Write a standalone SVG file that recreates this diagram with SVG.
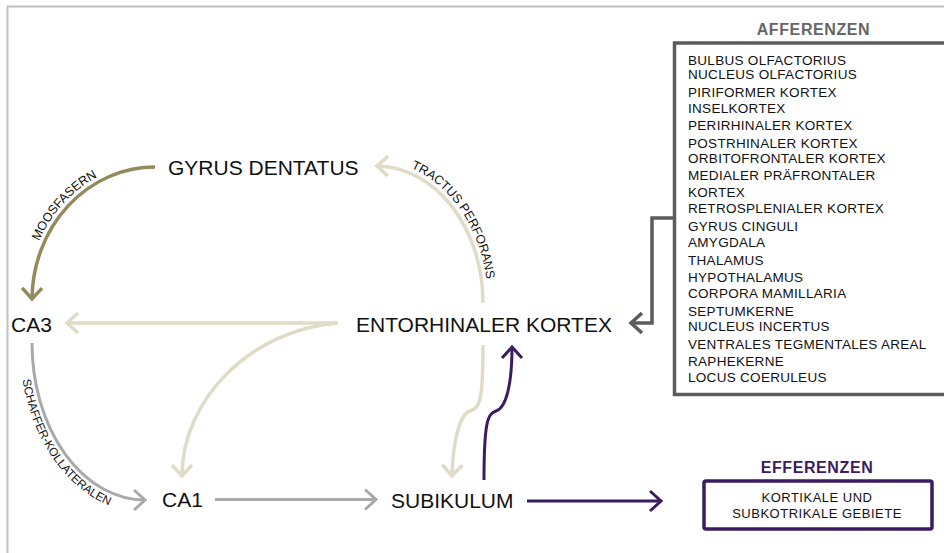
<svg xmlns="http://www.w3.org/2000/svg" width="944" height="553" viewBox="0 0 944 553">
<style>
  .lbl { font-family: "Liberation Sans", Arial, sans-serif; font-size: 21px; fill: #111; }
  .small { font-family: "Liberation Sans", Arial, sans-serif; fill: #111; }
  .list { font-family: "Liberation Sans", Arial, sans-serif; font-size: 13.5px; letter-spacing: 0.3px; fill: #111; }
  .title { font-family: "Liberation Sans", Arial, sans-serif; font-size: 16px; font-weight: bold; letter-spacing: 0.6px; text-anchor: middle; }
  .conn { fill: none; stroke-linecap: butt; }
  .olive { stroke: #938a5d; stroke-width: 3.5; }
  .beige { stroke: #e0dbc6; stroke-width: 3.5; }
  .gray { stroke: #a9a9a9; stroke-width: 3; }
  .purple { stroke: #3b1c5f; stroke-width: 3; }
  .dgray { stroke: #5c5c5c; stroke-width: 3.5; }
</style>
<defs>
  <marker id="mOlive" markerUnits="userSpaceOnUse" markerWidth="30" markerHeight="30" refX="0" refY="0" orient="auto" overflow="visible">
    <path d="M-11,-10 L0,0 L-11,10" fill="none" stroke="#938a5d" stroke-width="3.5"/>
  </marker>
  <marker id="mBeige" markerUnits="userSpaceOnUse" markerWidth="30" markerHeight="30" refX="0" refY="0" orient="auto" overflow="visible">
    <path d="M-11,-10 L0,0 L-11,10" fill="none" stroke="#e0dbc6" stroke-width="3.5"/>
  </marker>
  <marker id="mGray" markerUnits="userSpaceOnUse" markerWidth="30" markerHeight="30" refX="0" refY="0" orient="auto" overflow="visible">
    <path d="M-11,-10 L0,0 L-11,10" fill="none" stroke="#a9a9a9" stroke-width="3"/>
  </marker>
  <marker id="mPurple" markerUnits="userSpaceOnUse" markerWidth="30" markerHeight="30" refX="0" refY="0" orient="auto" overflow="visible">
    <path d="M-11,-10 L0,0 L-11,10" fill="none" stroke="#3b1c5f" stroke-width="3"/>
  </marker>
  <marker id="mDgray" markerUnits="userSpaceOnUse" markerWidth="30" markerHeight="30" refX="0" refY="0" orient="auto" overflow="visible">
    <path d="M-11,-10 L0,0 L-11,10" fill="none" stroke="#5c5c5c" stroke-width="3.5"/>
  </marker>
  <path id="tpMoos" d="M27,300 A128,138 0 0 1 155,162"/>
  <path id="tpTractus" d="M376,161 A112,142 0 0 1 488,303"/>
  <path id="tpSchaffer" d="M19.5,343 A125.5,169.5 0 0 0 145,512.5"/>
</defs>

<!-- frame -->
<path d="M7.5,553 V6.5 H944" fill="none" stroke="#c0c0c0" stroke-width="2"/>

<g id="connectors">
  <path class="conn olive" d="M155,167 A123,133 0 0 0 32,299" marker-end="url(#mOlive)"/>
  <path class="conn beige" d="M483,303 A107,137 0 0 0 377,166" marker-end="url(#mBeige)"/>
  <path class="conn beige" d="M338,323 L67,323" marker-end="url(#mBeige)"/>
  <path class="conn beige" d="M338,323 C250,330 182,400 182,476" marker-end="url(#mBeige)"/>
  <path class="conn gray" d="M32,343 A113,157 0 0 0 145,500" marker-end="url(#mGray)"/>
  <path class="conn gray" d="M215,499.5 L376,499.5" marker-end="url(#mGray)"/>
  <path class="conn purple" d="M527,501 L661,501" marker-end="url(#mPurple)"/>
  <path class="conn purple" d="M484,480 C484,420 488,414 496,411 C506,408 512,385 512,347" marker-end="url(#mPurple)"/>
  <path class="conn beige" d="M483,345 C483,400 480,408 470,411 C460,414 453,440 452,476" marker-end="url(#mBeige)"/>
  <path class="conn dgray" d="M674,218 H652 V323 H631" marker-end="url(#mDgray)"/>
  <text class="small" font-size="12.5"><textPath href="#tpMoos" startOffset="50%" text-anchor="middle">MOOSFASERN</textPath></text>
  <text class="small" font-size="12.5"><textPath href="#tpTractus" startOffset="53%" text-anchor="middle">TRACTUS PERFORANS</textPath></text>
  <text class="small" font-size="11.8"><textPath href="#tpSchaffer" startOffset="50%" text-anchor="middle">SCHAFFER-KOLLATERALEN</textPath></text>
</g>

<g id="gyrus-dentatus"><text class="lbl" x="168" y="175">GYRUS DENTATUS</text></g>
<g id="ca3"><text class="lbl" x="11" y="332">CA3</text></g>
<g id="entorhinaler-kortex"><text class="lbl" x="356" y="332">ENTORHINALER KORTEX</text></g>
<g id="ca1"><text class="lbl" x="162" y="507">CA1</text></g>
<g id="subikulum"><text class="lbl" x="391" y="508">SUBIKULUM</text></g>

<g id="afferenzen">
  <text class="title" x="813.5" y="35" fill="#666666">AFFERENZEN</text>
  <path d="M948,43 H674.5 V394.5 H948" fill="none" stroke="#5c5c5c" stroke-width="3.5"/>
  <text class="list" x="688" y="65">BULBUS OLFACTORIUS</text>
  <text class="list" x="688" y="79">NUCLEUS OLFACTORIUS</text>
  <text class="list" x="688" y="96.5">PIRIFORMER KORTEX</text>
  <text class="list" x="688" y="113">INSELKORTEX</text>
  <text class="list" x="688" y="130">PERIRHINALER KORTEX</text>
  <text class="list" x="688" y="147.5">POSTRHINALER KORTEX</text>
  <text class="list" x="688" y="162.5">ORBITOFRONTALER KORTEX</text>
  <text class="list" x="688" y="180">MEDIALER PRÄFRONTALER</text>
  <text class="list" x="688" y="197">KORTEX</text>
  <text class="list" x="688" y="213">RETROSPLENIALER KORTEX</text>
  <text class="list" x="688" y="231">GYRUS CINGULI</text>
  <text class="list" x="688" y="247">AMYGDALA</text>
  <text class="list" x="688" y="264.5">THALAMUS</text>
  <text class="list" x="688" y="281.5">HYPOTHALAMUS</text>
  <text class="list" x="688" y="298">CORPORA MAMILLARIA</text>
  <text class="list" x="688" y="315.5">SEPTUMKERNE</text>
  <text class="list" x="688" y="331">NUCLEUS INCERTUS</text>
  <text class="list" x="688" y="349">VENTRALES TEGMENTALES AREAL</text>
  <text class="list" x="688" y="365.5">RAPHEKERNE</text>
  <text class="list" x="688" y="381.5">LOCUS COERULEUS</text>
</g>

<g id="efferenzen">
  <text class="title" x="817" y="473" fill="#3b1c5f">EFFERENZEN</text>
  <rect x="704" y="481" width="228" height="48" rx="2" fill="none" stroke="#3b1c5f" stroke-width="3.5"/>
  <text class="small" font-size="13" letter-spacing="0.5" x="817" y="502" text-anchor="middle">KORTIKALE UND</text>
  <text class="small" font-size="13" letter-spacing="0.5" x="817" y="517.5" text-anchor="middle">SUBKOTRIKALE GEBIETE</text>
</g>
</svg>
